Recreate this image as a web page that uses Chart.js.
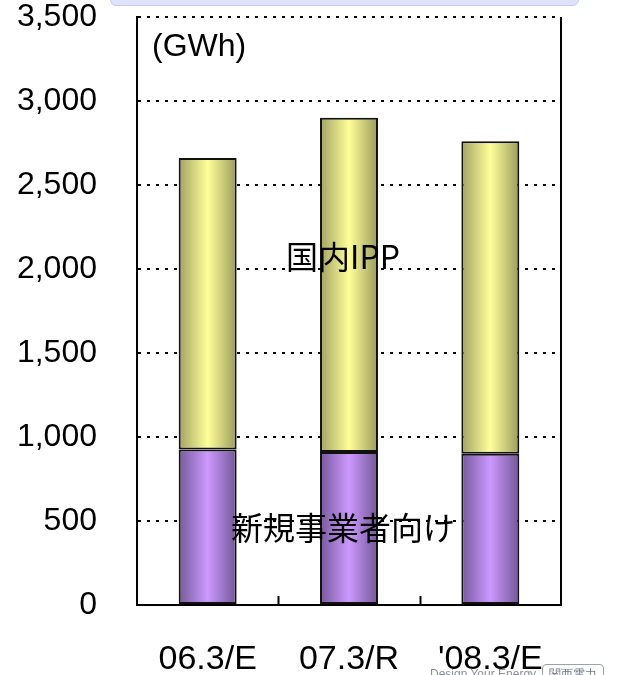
<!DOCTYPE html>
<html>
<head>
<meta charset="utf-8">
<script src="https://cdn.jsdelivr.net/npm/chart.js@4.4.1/dist/chart.umd.min.js"></script>
<style>
  html, body { margin: 0; padding: 0; background: #fff; }
  #wrap { position: relative; width: 632px; height: 675px; overflow: hidden; }
  #banner { position: absolute; left: 110px; top: -7px; width: 467px; height: 11px;
            background: #dfe2ff; border: 1px solid #c6cbf3; border-radius: 6px; }
  #badge { position: absolute; left: 430px; top: 664px; font: 12px "Liberation Sans", Arial, sans-serif;
           color: #8a8f96; filter: blur(0.7px); white-space: nowrap; }
  #badge span { display: inline-block; margin-left: 6px; padding: 1px 6px; border: 1px solid #9aa3ad;
                border-radius: 4px; color: #6d7680; }
  canvas { position: absolute; left: 0; top: 0; }
</style>
</head>
<body>
<div id="wrap">
  <canvas id="c" width="632" height="675"></canvas>
  <div id="banner"></div>
  <div id="badge">Design Your Energy<span>関西電力</span></div>
</div>
<script>
// Fiscal periods on the category axis
const categories = ['06.3/E', '07.3/R', "'08.3/E"];
// Power sold to new entrants (GWh)
const newEntrants = [925, 910, 900];
// Domestic IPP (GWh)
const domesticIpp = [1735, 1990, 1860];
// Value axis ticks
const yTicks = [0, 500, 1000, 1500, 2000, 2500, 3000, 3500];

const seriesNames = ['新規事業者向け', '国内IPP'];
const BAR_FRACTION = 0.41;

// Horizontal shading across each bar: dark edges, bright centre
function barGradient(stops) {
  return (ctx) => {
    const chart = ctx.chart;
    const xs = chart.scales.x;
    if (!xs || ctx.dataIndex === undefined || !chart.chartArea) return stops[1];
    const cx = xs.getPixelForValue(ctx.dataIndex);
    const w = (xs.width / categories.length) * BAR_FRACTION;
    const g = chart.ctx.createLinearGradient(cx - w / 2, 0, cx + w / 2, 0);
    g.addColorStop(0, stops[0]);
    g.addColorStop(0.5, stops[1]);
    g.addColorStop(1, stops[2]);
    return g;
  };
}

// Frame pieces, inner category ticks, unit and series captions
const decorations = {
  id: 'decorations',
  beforeDatasetsDraw(chart) {
    const { ctx, chartArea: a, scales: { x } } = chart;
    ctx.save();
    ctx.strokeStyle = '#000';
    ctx.lineWidth = 2;
    ctx.beginPath();
    ctx.moveTo(a.right, a.top);
    ctx.lineTo(a.right, a.bottom);
    const step = x.width / categories.length;
    for (let i = 1; i < categories.length; i++) {
      const px = Math.round(a.left + step * i) + 0.5;
      ctx.moveTo(px, a.bottom);
      ctx.lineTo(px, a.bottom - 9);
    }
    ctx.stroke();
    ctx.restore();
  },
  afterDatasetsDraw(chart) {
    const { ctx, chartArea: a, scales: { y } } = chart;
    ctx.save();
    ctx.fillStyle = '#000';
    ctx.textBaseline = 'middle';
    ctx.font = '32px "Liberation Sans", Arial, sans-serif';
    ctx.textAlign = 'left';
    ctx.fillText('(GWh)', a.left + 15, a.top + 30);
    ctx.textAlign = 'center';
    ctx.font = '32px "Noto Sans CJK JP", "Noto Sans", sans-serif';
    const mid = (a.left + a.right) / 2 - 6;
    ctx.fillText(seriesNames[1], mid, y.getPixelForValue(2075));
    ctx.fillText(seriesNames[0], mid, y.getPixelForValue(460));
    ctx.restore();
  }
};

new Chart(document.getElementById('c'), {
  type: 'bar',
  data: {
    labels: categories,
    datasets: [
      {
        label: seriesNames[0],
        data: newEntrants,
        backgroundColor: barGradient(['#77599c', '#cc99ff', '#735696']),
        borderColor: '#111',
        borderWidth: 2,
        borderSkipped: false,
        barPercentage: BAR_FRACTION,
        categoryPercentage: 1
      },
      {
        label: seriesNames[1],
        data: domesticIpp,
        backgroundColor: barGradient(['#a2a264', '#ffff99', '#9b9b5e']),
        borderColor: '#111',
        borderWidth: 2,
        borderSkipped: false,
        barPercentage: BAR_FRACTION,
        categoryPercentage: 1
      }
    ]
  },
  options: {
    responsive: false,
    devicePixelRatio: 1,
    animation: false,
    layout: { padding: { left: 0, top: 17, right: 71, bottom: 0 } },
    plugins: { legend: { display: false }, tooltip: { enabled: false } },
    scales: {
      x: {
        stacked: true,
        grid: { display: false, drawTicks: false },
        border: { display: true, color: '#000', width: 2 },
        ticks: {
          color: '#000',
          padding: 34,
          font: { family: '"Liberation Sans", Arial, sans-serif', size: 34 }
        },
        afterFit(scale) { scale.height = 70; scale.paddingLeft = 0; scale.paddingRight = 0; }
      },
      y: {
        stacked: true,
        min: 0,
        max: 3500,
        afterBuildTicks(scale) { scale.ticks = yTicks.map(v => ({ value: v })); },
        grid: { color: '#000', lineWidth: 2, drawTicks: false },
        border: { display: true, color: '#000', width: 2, dash: [3, 6] },
        ticks: {
          color: '#000',
          padding: 40,
          font: { family: '"Liberation Sans", Arial, sans-serif', size: 32 },
          callback: (v) => v.toLocaleString('en-US')
        },
        afterFit(scale) { scale.width = 137; scale.paddingTop = 0; scale.paddingBottom = 0; }
      }
    }
  },
  plugins: [decorations]
});
</script>
</body>
</html>
